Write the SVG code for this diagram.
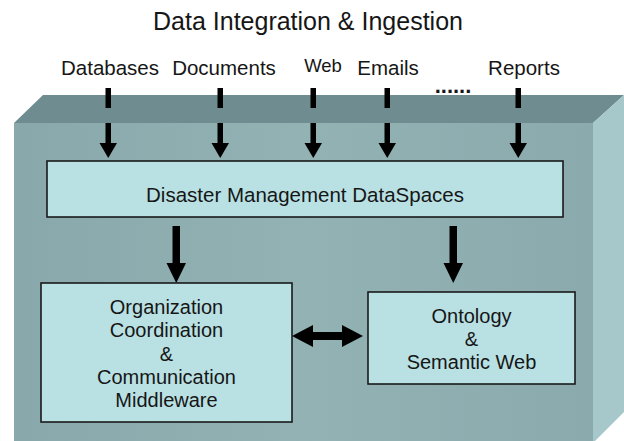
<svg xmlns="http://www.w3.org/2000/svg" width="624" height="441" viewBox="0 0 624 441">
<defs>
<style>
text{font-family:"Liberation Sans",Arial,sans-serif;fill:#161616}
.lbl{font-size:20.5px}
.t20{font-size:20px}
.box{fill:#b9e1e4;stroke:#1a1a1a;stroke-width:1.6}
.c{text-anchor:middle}
.ar{fill:#000}
</style>
<linearGradient id="front" x1="0" y1="0" x2="1" y2="0">
<stop offset="0" stop-color="#88a8ab"/>
<stop offset="0.5" stop-color="#92b2b4"/>
<stop offset="1" stop-color="#8aaaad"/>
</linearGradient>
</defs>
<rect width="624" height="441" fill="#ffffff"/>
<g id="block">
<polygon points="43,95 624,95 593,123 14,123" fill="#6f8c90"/>
<rect x="14" y="123" width="579" height="318" fill="url(#front)"/>
<polygon points="593,123 624,95 624,412 595,441 593,441" fill="#a7c8ca"/>
</g>
<text x="308" y="30" class="c" style="font-size:25px">Data Integration &amp; Ingestion</text>
<g id="sources">
<text x="110" y="75" class="lbl c">Databases</text>
<text x="224" y="75" class="lbl c">Documents</text>
<text x="323" y="72" class="c" style="font-size:18.5px">Web</text>
<text x="388" y="75" class="lbl c">Emails</text>
<text x="524" y="75" class="lbl c">Reports</text>
<text x="453" y="93" class="c" style="font-size:22px;font-weight:bold">......</text>
</g>
<g id="connectors" class="ar">
<rect x="105.5" y="88" width="5.5" height="20"/>
<path d="M105.5,123h5.5v20h6l-8.75,15l-8.75,-15h6z"/>
<rect x="217.5" y="88" width="5.5" height="20"/>
<path d="M217.5,123h5.5v20h6l-8.75,15l-8.75,-15h6z"/>
<rect x="310.5" y="88" width="5.5" height="20"/>
<path d="M310.5,123h5.5v20h6l-8.75,15l-8.75,-15h6z"/>
<rect x="384.5" y="88" width="5.5" height="20"/>
<path d="M384.5,123h5.5v20h6l-8.75,15l-8.75,-15h6z"/>
<rect x="515.5" y="88" width="5.5" height="20"/>
<path d="M515.5,123h5.5v20h6l-8.75,15l-8.75,-15h6z"/>
<path d="M172.5,226h7.5v37h6l-9.75,20l-9.75,-20h6z"/>
<path d="M449.5,226h7.5v37h6l-9.75,20l-9.75,-20h6z"/>
<path d="M292,336l21,-11v7h29v-7l21,11l-21,11v-7h-29v7z"/>
</g>
<g id="dataspaces">
<rect x="47" y="161" width="516" height="56" class="box"/>
<text x="305" y="202" class="lbl c">Disaster Management DataSpaces</text>
</g>
<g id="organization">
<rect x="41" y="283" width="251" height="139" class="box"/>
<text x="166.5" y="314" class="c t20">Organization</text>
<text x="166.5" y="337" class="c t20">Coordination</text>
<text x="166.5" y="361" class="c t20">&amp;</text>
<text x="166.5" y="384" class="c t20">Communication</text>
<text x="166.5" y="407" class="c t20">Middleware</text>
</g>
<g id="ontology">
<rect x="368" y="292" width="207" height="92" class="box"/>
<text x="471.5" y="323" class="c t20">Ontology</text>
<text x="471.5" y="346" class="c t20">&amp;</text>
<text x="471.5" y="369" class="c t20">Semantic Web</text>
</g>
</svg>
